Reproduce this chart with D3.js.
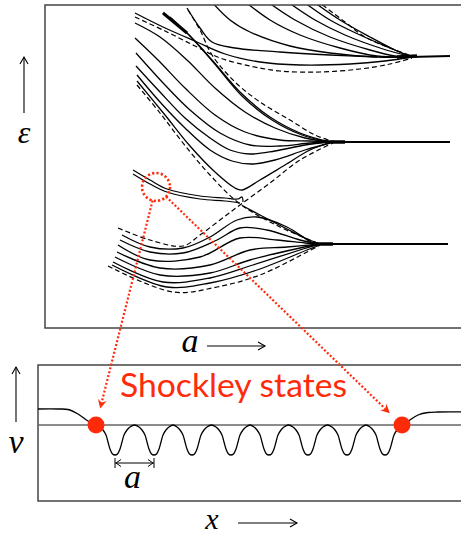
<!DOCTYPE html>
<html>
<head>
<meta charset="utf-8">
<script src="https://cdn.jsdelivr.net/npm/d3@7"></script>
<style>
body { margin: 0; background: #fff; }
svg { display: block; }
.math { font-family: "Liberation Serif", serif; font-style: italic; fill: #000; }
</style>
</head>
<body>
<div id="chart"></div>
<script>
// ---- top panel: energy levels vs lattice constant a (arbitrary units) ----
// each curve is a list of [a, epsilon] points
var topBandSolid = [
    [[165,328],[185,308],[205,296],[245,282],[285,275],[332,271],[367,271]],
    [[198,328],[225,308],[255,293],[295,280],[332,272],[367,271]],
    [[220,328],[250,308],[285,291],[325,278],[350,272],[367,271]],
    [[240,328],[270,308],[300,293],[335,280],[367,271]],
    [[256,328],[285,308],[315,293],[345,280],[367,271]],
    [[266,328],[295,308],[325,291],[350,278],[367,271]],
    [[142,320],[155,300],[167,286],[190,280],[235,276],[285,273],[332,271]],
    [[90,315],[118,301],[152,286],[180,274],[215,266],[255,263],[305,264],[340,267],[367,271]]
];
var topBandDashed = [
    [[271,328],[300,306],[320,291],[345,280],[367,272]],
    [[90,311],[120,297],[150,282],[175,270],[205,262],[235,257],[275,256],[315,259],[345,264],[367,270]]
];

var midBandSolid = [
    [[118,315],[142,295],[167,268],[195,236],[225,211],[255,195],[285,186]],
    [[125,311],[145,292],[169,265],[197,232],[227,208],[257,193],[285,186]],
    [[90,305],[115,291],[142,268],[170,240],[200,216],[230,200],[260,190],[285,186]],
    [[90,290],[113,268],[140,240],[170,213],[200,196],[235,188],[265,187],[285,186]],
    [[91,275],[120,243],[145,218],[175,195],[205,183],[235,182],[265,185],[285,186]],
    [[91,262],[115,236],[140,210],[165,190],[185,178],[205,174],[230,177],[260,183],[285,186]],
    [[92,253],[115,226],[140,200],[165,178],[187,167],[207,164],[230,168],[260,178],[285,185]],
    [[92,247],[120,213],[145,182],[170,156],[190,140],[197,138],[215,148],[240,163],[265,178],[285,185]]
];
var midBandDashed = [
    [[143,318],[155,298],[167,273],[190,246],[215,226],[245,208],[270,193],[290,186]],
    // lower edge of middle band, continues as upper edge of lowest band
    [[92,243],[115,215],[138,185],[165,153],[195,124],[235,101],[275,84]],
    // upper edge of lowest band, continues as lower edge of middle band
    [[73,100],[105,88],[138,82],[155,93],[175,108],[195,123],[225,145],[255,168],[288,185]]
];

var lowBandSolid = [
    [[198,122],[215,113],[240,100],[260,90],[275,84]],
    [[77,93],[105,81],[138,80],[165,91],[192,108],[212,111],[242,101],[268,85],[275,84]],
    [[75,88],[105,76],[138,75],[172,88],[195,100],[222,98],[255,88],[275,84]],
    [[73,83],[105,68],[155,71],[195,90],[232,88],[260,85],[275,84]],
    [[72,76],[115,60],[165,63],[205,78],[242,81],[275,84]],
    [[70,71],[115,53],[165,55],[205,68],[255,80],[275,84]],
    [[68,66],[118,46],[165,50],[208,63],[258,79],[275,84]],
    [[67,63],[122,41],[165,45],[212,58],[262,78],[275,83]]
];
var lowBandDashed = [
    [[63,62],[128,36],[172,41],[215,53],[262,76],[275,83]]
];

// surface (Shockley) state branch, drawn as a close pair
var surfaceState = [
    [[88,158],[105,148],[122,139],[155,132],[180,130],[193,129],[197,131],[198,126]],
    [[88,154],[105,144],[122,136],[155,129],[180,127],[195,125]]
];

// bulk limits on the right (a large), and the tangled ends where bands merge
var flatLevels = [
    [[365,271],[405,272]],
    [[285,186],[405,186]],
    [[275,84],[403,84]]
];
var knots = [
    [[352,271],[372,272]],
    [[280,186],[300,186]],
    [[268,84],[288,84]]
];

// ---- bottom panel: potential v(x) ----
var leftEdge = [[0,16],[20,16],[30,15.5],[40,11],[50,4],[58,0]];
var wellCenters = [77, 116, 154, 193, 231, 270, 309, 347];
var wellProfile = [[-15,-2],[-12,-5],[-9,-10],[-7,-17],[-5,-24],[-2.5,-29],[0,-30],
                   [2.5,-29],[5,-24],[7,-17],[9,-10],[12,-5],[15,-2]];
var rightEdge = [[366,0],[372,5],[380,10],[390,12.5],[400,13],[430,13]];
var shockleyDots = [[58,0],[364,0]];
var circleMark = [111, 141];

var W = 461, H = 537;
var red = "#ff2a0a";

var svg = d3.select("#chart").append("svg")
    .attr("width", W)
    .attr("height", H);

// top panel scales
var aScale = d3.scaleLinear().domain([0, 416]).range([45, 461]);
var eScale = d3.scaleLinear().domain([0, 323]).range([328, 5]);

// bottom panel scales
var xScale = d3.scaleLinear().domain([0, 423]).range([38, 461]);
var vScale = d3.scaleLinear().domain([-76, 60]).range([501, 365]);

svg.append("defs").append("clipPath")
    .attr("id", "topClip")
    .append("rect")
    .attr("x", 45).attr("y", 5)
    .attr("width", 430).attr("height", 323);

var bandLine = d3.line()
    .x(d => aScale(d[0]))
    .y(d => eScale(d[1]))
    .curve(d3.curveCatmullRom.alpha(0.5));

var curveGroup = svg.append("g").attr("clip-path", "url(#topClip)");

function drawCurves(list, dashed, width) {
    curveGroup.selectAll(null)
        .data(list)
        .enter()
        .append("path")
        .attr("d", bandLine)
        .attr("fill", "none")
        .attr("stroke", "#000")
        .attr("stroke-width", width)
        .attr("stroke-dasharray", dashed ? "5,3" : null);
}

drawCurves(topBandSolid, false, 1.3);
drawCurves(topBandDashed, true, 1.2);
drawCurves(midBandSolid, false, 1.3);
drawCurves(midBandDashed, true, 1.2);
drawCurves(lowBandSolid, false, 1.3);
drawCurves(lowBandDashed, true, 1.2);
drawCurves(surfaceState, false, 1.2);
drawCurves(flatLevels, false, 2);
drawCurves(knots, false, 3.5);
// thick bundle at the upper left of the middle band
drawCurves([[[118,315],[142,295]]], false, 3);

// top frame (right side runs off the picture)
svg.append("rect")
    .attr("x", 45).attr("y", 5)
    .attr("width", 440).attr("height", 323)
    .attr("fill", "none")
    .attr("stroke", "#444")
    .attr("stroke-width", 1.5);

// bottom frame
svg.append("rect")
    .attr("x", 38).attr("y", 365)
    .attr("width", 440).attr("height", 136)
    .attr("fill", "none")
    .attr("stroke", "#444")
    .attr("stroke-width", 1.5);

// zero line
svg.append("line")
    .attr("x1", xScale(0)).attr("x2", xScale(423))
    .attr("y1", vScale(0)).attr("y2", vScale(0))
    .attr("stroke", "#666")
    .attr("stroke-width", 1.5);

// potential: edges + periodic wells
var potential = leftEdge.slice();
wellCenters.forEach(function (c, i) {
    wellProfile.forEach(function (p) { potential.push([c + p[0], p[1]]); });
    if (i < wellCenters.length - 1) {
        potential.push([(c + wellCenters[i + 1]) / 2, 0]);
    }
});
potential = potential.concat(rightEdge);

var potLine = d3.line()
    .x(d => xScale(d[0]))
    .y(d => vScale(d[1]))
    .curve(d3.curveCatmullRom.alpha(0.5));

svg.append("path")
    .attr("d", potLine(potential))
    .attr("fill", "none")
    .attr("stroke", "#000")
    .attr("stroke-width", 1.3);

// lattice spacing ruler
var r0 = xScale(wellCenters[0]), r1 = xScale(wellCenters[1]), ry = vScale(-38);
var ruler = svg.append("g").attr("stroke", "#000").attr("stroke-width", 1).attr("fill", "none");
ruler.append("line").attr("x1", r0).attr("x2", r1).attr("y1", ry).attr("y2", ry);
ruler.append("line").attr("x1", r0).attr("x2", r0).attr("y1", ry - 5).attr("y2", ry + 5);
ruler.append("line").attr("x1", r1).attr("x2", r1).attr("y1", ry - 5).attr("y2", ry + 5);
ruler.append("path").attr("d", `M${r0 + 6},${ry - 3.5} L${r0 + 1},${ry} L${r0 + 6},${ry + 3.5}`);
ruler.append("path").attr("d", `M${r1 - 6},${ry - 3.5} L${r1 - 1},${ry} L${r1 - 6},${ry + 3.5}`);
svg.append("text").attr("class", "math")
    .attr("x", (r0 + r1) / 2 - 2).attr("y", 488)
    .attr("text-anchor", "middle")
    .style("font-size", "34px")
    .text("a");

// red dotted circle on the surface state
var cx = aScale(circleMark[0]), cy = eScale(circleMark[1]), cr = 14;
svg.append("circle")
    .attr("cx", cx).attr("cy", cy).attr("r", cr)
    .attr("fill", "none")
    .attr("stroke", red)
    .attr("stroke-width", 2.6)
    .attr("stroke-dasharray", "2.2,2.2");

// dotted arrows from the circle to the two Shockley states
shockleyDots.forEach(function (d) {
    var tx = xScale(d[0]), ty = vScale(d[1]);
    var dx = tx - cx, dy = ty - cy, len = Math.sqrt(dx * dx + dy * dy);
    var ux = dx / len, uy = dy / len;
    var sx = cx + ux * cr, sy = cy + uy * cr;
    var ex = tx - ux * 17, ey = ty - uy * 17;
    svg.append("line")
        .attr("x1", sx).attr("y1", sy)
        .attr("x2", ex - ux * 6).attr("y2", ey - uy * 6)
        .attr("stroke", red)
        .attr("stroke-width", 2.2)
        .attr("stroke-dasharray", "2,2");
    var px = -uy, py = ux;
    svg.append("path")
        .attr("d", `M${ex},${ey} L${ex - ux * 9 + px * 4.5},${ey - uy * 9 + py * 4.5} L${ex - ux * 6},${ey - uy * 6} L${ex - ux * 9 - px * 4.5},${ey - uy * 9 - py * 4.5} Z`)
        .attr("fill", red);
    svg.append("circle")
        .attr("cx", tx).attr("cy", ty).attr("r", 8.5)
        .attr("fill", red);
});

svg.append("text")
    .attr("x", 120).attr("y", 397)
    .attr("textLength", 227)
    .attr("lengthAdjust", "spacingAndGlyphs")
    .style("font-family", "Lato, 'DejaVu Sans', sans-serif")
    .style("font-size", "32px")
    .attr("fill", red)
    .text("Shockley states");

// axis arrows and math labels
function arrow(x1, y1, x2, y2) {
    var dx = x2 - x1, dy = y2 - y1, len = Math.sqrt(dx * dx + dy * dy);
    var ux = dx / len, uy = dy / len, px = -uy, py = ux;
    var g = svg.append("g").attr("stroke", "#000").attr("stroke-width", 1.1).attr("fill", "none");
    g.append("line").attr("x1", x1).attr("y1", y1).attr("x2", x2).attr("y2", y2);
    g.append("path").attr("d",
        `M${x2 - ux * 7 + px * 4},${y2 - uy * 7 + py * 4} L${x2},${y2} L${x2 - ux * 7 - px * 4},${y2 - uy * 7 - py * 4}`);
}

arrow(24, 113, 24, 57);
svg.append("text").attr("class", "math")
    .attr("x", 24).attr("y", 143)
    .attr("text-anchor", "middle")
    .style("font-size", "32px")
    .text("\u03b5");

svg.append("text").attr("class", "math")
    .attr("x", 190).attr("y", 352)
    .attr("text-anchor", "middle")
    .style("font-size", "34px")
    .text("a");
arrow(207, 346, 265, 346);

arrow(16, 422, 16, 367);
svg.append("text").attr("class", "math")
    .attr("x", 16).attr("y", 453)
    .attr("text-anchor", "middle")
    .style("font-size", "34px")
    .text("v");

svg.append("text").attr("class", "math")
    .attr("x", 212).attr("y", 529)
    .attr("text-anchor", "middle")
    .style("font-size", "30px")
    .text("x");
arrow(238, 523, 297, 523);
</script>
</body>
</html>
